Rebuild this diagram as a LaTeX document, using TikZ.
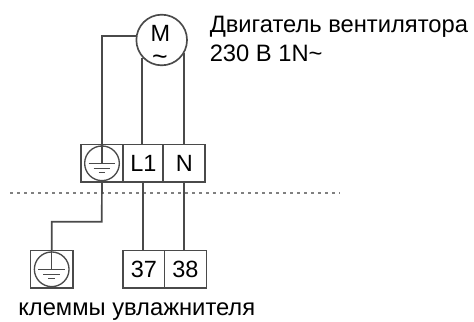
\documentclass[tikz,border=0pt]{standalone}
\usepackage{fontspec}
\setmainfont{Liberation Sans}
\usepackage{xcolor}
\usetikzlibrary{positioning}
\definecolor{wirecol}{HTML}{4A4A4A}
\tikzset{
  wire/.style={draw=wirecol,line width=1.25pt},
  term/.style={draw=wirecol,line width=1.25pt,minimum height=28pt,inner sep=0pt,font=\fontsize{17.6}{17.6}\selectfont,text=black},
  earthring/.style={circle,draw=wirecol,line width=1pt,minimum size=26pt,inner sep=0pt},
  label/.style={inner sep=0pt,anchor=base west,font=\fontsize{17.8}{17.8}\selectfont,text=black}
}
% earth mark inside a ring
\newcommand{\earthmark}[1]{
  \draw [wirecol,line width=0.8pt] (#1.north) -- (#1.center);
  \draw [wirecol,line width=0.8pt] ([xshift=-10pt]#1.center) -- ([xshift=10pt]#1.center);
  \draw [wirecol,line width=0.8pt] ([xshift=-6.2pt,yshift=-3.8pt]#1.center) -- ([xshift=6.2pt,yshift=-3.8pt]#1.center);
  \draw [wirecol,line width=0.8pt] ([xshift=-2.5pt,yshift=-7.2pt]#1.center) -- ([xshift=2.5pt,yshift=-7.2pt]#1.center);
}
\begin{document}
\begin{tikzpicture}[x=0.75pt,y=-0.75pt]
\useasboundingbox (0,0) rectangle (474,321);
% motor
\node [circle,draw=wirecol,line width=1.25pt,minimum size=38pt,inner sep=0pt] (motor) at (161.7,40) {};
\node [inner sep=0pt,font=\fontsize{17.6}{17.6}\selectfont] (motorM) at (160.3,33) {M};
\node [inner sep=0pt,anchor=base,font=\fontsize{20}{20}\selectfont] (motorAC) at (160,65) {\char`~};
\node [label] (title) at (209.5,33) {Двигатель вентилятора};
\node [label] (volt) at (209.5,61.7) {230 В 1N\char`~};
% upper terminal block
\node [term,minimum width=32pt] (tPE) at (102,163.3) {};
\node [term,minimum width=30pt] (tL) at (143.3,163.3) {L1};
\node [term,minimum width=31.5pt] (tN) at (184.3,163.3) {N};
\node [earthring] (ringA) at (tPE.center) {};
\earthmark{ringA}
% motor wires
\draw [wire] (motor.171) -| (tPE.north);
\draw [wire] (motor.-138) -- (motor.-138 |- tL.north);
\draw [wire] (motor.-31) -- (motor.-31 |- tN.north);
% separator
\coordinate (sepA) at (10,193);
\coordinate (sepB) at (340,193);
\draw [gray,line width=0.9pt,dash pattern=on 1.9pt off 3.35pt] (sepA) -- (sepB);
% lower terminals
\node [term,minimum width=32pt] (tEarth) at (51.7,269.3) {};
\node [earthring] (ringB) at (tEarth.center) {};
\earthmark{ringB}
\node [term,minimum width=31pt] (t37) at (143.8,269.3) {37};
\node [term,minimum width=31.5pt] (t38) at (185.5,269.3) {38};
\coordinate (bend) at (101.7,221.7);
\draw [wire] (tPE.south) -- (bend) -| (tEarth.north);
\draw [wire] (tL.south) -- (tL.south |- t37.north);
\draw [wire] (motor.-31 |- tN.south) -- (motor.-31 |- t38.north);
\node [label] (caption) at (18,315) {клеммы увлажнителя};
\end{tikzpicture}
\end{document}
